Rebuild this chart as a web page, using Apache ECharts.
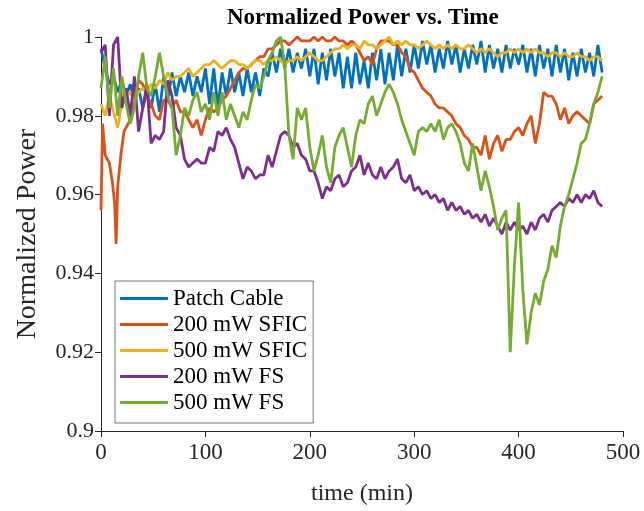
<!DOCTYPE html>
<html>
<head>
<meta charset="utf-8">
<script src="https://cdn.jsdelivr.net/npm/echarts@6/dist/echarts.min.js"></script>
<style>
html,body{margin:0;padding:0;background:#fff;}
#chart{width:644px;height:511px;}
</style>
</head>
<body>
<div id="chart"></div>
<script>
// ---- DATA ----
const seriesNames = ['Patch Cable', '200 mW SFIC', '500 mW SFIC', '200 mW FS', '500 mW FS'];
const xTicks = [0, 100, 200, 300, 400, 500];
const yTicks = [0.9, 0.92, 0.94, 0.96, 0.98, 1];

// common sampling times (min)
const timeGrid = [
  0,4,8,12,16,20,24,28,32,36,
  40,44,48,52,56,60,64,68,72,76,
  80,84,88,92,96,100,104,108,112,116,
  120,124,128,132,136,140,144,148,152,156,
  160,164,168,172,176,180,184,188,192,196,
  200,204,208,212,216,220,224,228,232,236,
  240,244,248,252,256,260,264,268,272,276,
  280,284,288,292,296,300,304,308,312,316,
  320,324,328,332,336,340,344,348,352,356,
  360,364,368,372,376,380,384,388,392,396,
  400,404,408,412,416,420,424,428,432,436,
  440,444,448,452,456,460,464,468,472,476,
  480
];

const patchCable = [
  0.997,0.992,0.988,0.990,0.986,0.989,0.985,0.988,0.984,0.987,
  0.982,0.986,0.982,0.988,0.981,0.990,0.984,0.991,0.985,0.990,
  0.986,0.991,0.985,0.990,0.986,0.992,0.983,0.992,0.982,0.991,
  0.985,0.992,0.986,0.991,0.985,0.992,0.986,0.991,0.985,0.992,
  0.990,0.996,0.991,0.997,0.992,0.997,0.991,0.996,0.992,0.997,
  0.990,0.997,0.988,0.996,0.989,0.997,0.990,0.996,0.987,0.995,
  0.987,0.996,0.988,0.994,0.987,0.996,0.989,0.997,0.988,0.996,
  0.989,0.998,0.990,0.997,0.991,0.998,0.992,0.999,0.993,0.998,
  0.991,0.997,0.992,0.999,0.993,0.998,0.991,0.997,0.992,0.998,
  0.993,0.999,0.991,0.998,0.992,0.997,0.991,0.998,0.992,0.997,
  0.993,0.998,0.991,0.997,0.990,0.998,0.992,0.997,0.990,0.998,
  0.991,0.997,0.989,0.996,0.990,0.997,0.991,0.996,0.990,0.998,
  0.991
];

// 200 mW SFIC has its own times (fast dip near the start)
const sfic200Time = [
  0,1.5,4,8,11,13,14.5,16,19,22,
  24,28,32,36,
  40,44,48,52,56,60,64,68,72,76,
  80,84,88,92,96,100,104,108,112,116,
  120,124,128,132,136,140,144,148,152,156,
  160,164,168,172,176,180,184,188,192,196,
  200,204,208,212,216,220,224,228,232,236,
  240,244,248,252,256,260,264,268,272,276,
  280,284,288,292,296,300,304,308,312,316,
  320,324,328,332,336,340,344,348,352,356,
  360,364,368,372,376,380,384,388,392,396,
  400,404,408,412,416,420,424,428,432,436,
  440,444,448,452,456,460,464,468,472,476,
  480
];
const sfic200 = [
  0.956,0.978,0.970,0.968,0.963,0.958,0.9475,0.962,0.970,0.976,
  0.977,0.979,0.983,0.989,
  0.988,0.985,0.983,0.980,0.979,0.984,0.984,0.982,0.984,0.981,
  0.981,0.979,0.977,0.979,0.975,0.979,0.982,0.981,0.982,0.984,
  0.985,0.987,0.989,0.991,0.992,0.992,0.993,0.994,0.995,0.995,
  0.997,0.997,0.998,0.999,0.999,0.998,0.999,1.000,0.999,0.999,
  0.999,1.000,0.999,1.000,0.999,0.999,1.000,0.999,0.999,0.998,
  0.999,0.998,0.996,0.994,0.995,0.993,0.997,0.999,0.999,0.999,
  0.998,0.998,0.996,0.995,0.992,0.991,0.989,0.987,0.986,0.985,
  0.983,0.982,0.982,0.981,0.980,0.978,0.977,0.975,0.974,0.972,
  0.972,0.970,0.975,0.969,0.973,0.975,0.971,0.974,0.974,0.976,
  0.977,0.975,0.978,0.980,0.973,0.978,0.986,0.985,0.985,0.983,
  0.979,0.982,0.978,0.980,0.981,0.980,0.979,0.978,0.983,0.984,
  0.985
];

const sfic500 = [
  0.983,0.980,0.985,0.981,0.977,0.983,0.985,0.986,0.984,0.986,
  0.987,0.986,0.988,0.987,0.989,0.988,0.991,0.989,0.990,0.990,
  0.991,0.992,0.990,0.991,0.992,0.993,0.993,0.994,0.993,0.992,
  0.993,0.994,0.994,0.993,0.993,0.992,0.993,0.994,0.994,0.993,
  0.994,0.994,0.995,0.994,0.993,0.994,0.994,0.995,0.994,0.995,
  0.996,0.995,0.994,0.994,0.995,0.996,0.997,0.997,0.998,0.997,
  0.998,0.998,0.997,0.999,0.998,0.998,0.997,0.998,0.999,1.000,
  0.998,0.999,0.998,0.999,0.998,0.998,0.997,0.998,0.999,0.998,
  0.997,0.998,0.997,0.998,0.997,0.998,0.997,0.997,0.998,0.997,
  0.996,0.997,0.996,0.997,0.996,0.995,0.996,0.996,0.997,0.996,
  0.997,0.996,0.997,0.996,0.997,0.996,0.996,0.995,0.996,0.996,
  0.995,0.996,0.995,0.995,0.996,0.995,0.995,0.994,0.995,0.995,
  0.994
];

const fs200 = [
  0.996,0.998,0.980,0.998,1.000,0.982,0.987,0.980,0.990,0.976,
  0.982,0.988,0.973,0.975,0.974,0.976,0.989,0.985,0.977,0.975,
  0.969,0.967,0.968,0.969,0.968,0.968,0.972,0.971,0.976,0.975,
  0.977,0.974,0.972,0.968,0.964,0.967,0.966,0.964,0.965,0.965,
  0.970,0.967,0.971,0.975,0.976,0.975,0.972,0.973,0.970,0.969,
  0.966,0.966,0.963,0.959,0.962,0.961,0.964,0.965,0.962,0.963,
  0.966,0.967,0.970,0.965,0.968,0.965,0.964,0.967,0.964,0.966,
  0.967,0.969,0.964,0.963,0.965,0.961,0.962,0.960,0.961,0.959,
  0.960,0.958,0.959,0.956,0.958,0.956,0.957,0.955,0.956,0.954,
  0.955,0.953,0.955,0.952,0.954,0.952,0.950,0.953,0.951,0.953,
  0.951,0.952,0.950,0.953,0.951,0.954,0.955,0.953,0.956,0.957,
  0.958,0.957,0.959,0.958,0.960,0.958,0.960,0.959,0.961,0.958,
  0.957
];

const fs500 = [
  0.987,0.995,0.982,0.992,0.980,0.990,0.983,0.978,0.982,0.990,
  0.996,0.987,0.985,0.990,0.996,0.990,0.985,0.982,0.970,0.975,
  0.982,0.980,0.984,0.986,0.981,0.983,0.979,0.986,0.980,0.986,
  0.979,0.983,0.980,0.977,0.981,0.979,0.984,0.988,0.987,0.990,
  0.994,0.996,0.999,1.000,0.993,0.975,0.969,0.982,0.979,0.982,
  0.972,0.966,0.970,0.975,0.967,0.963,0.972,0.975,0.977,0.972,
  0.967,0.975,0.979,0.978,0.983,0.985,0.980,0.983,0.986,0.988,
  0.986,0.983,0.979,0.976,0.973,0.970,0.976,0.977,0.976,0.978,
  0.976,0.979,0.974,0.977,0.978,0.976,0.973,0.968,0.966,0.973,
  0.967,0.961,0.966,0.962,0.957,0.951,0.954,0.956,0.920,0.942,
  0.958,0.936,0.922,0.930,0.935,0.932,0.938,0.941,0.947,0.944,
  0.952,0.957,0.960,0.964,0.968,0.973,0.974,0.978,0.983,0.986,
  0.990
];

const colors = ['#0072BD', '#D95319', '#EDB120', '#7E2F8E', '#77AC30'];

// ---- BUILD ----
function pairs(ts, vs) {
  const out = [];
  const n = Math.min(ts.length, vs.length);
  for (let i = 0; i < n; i++) out.push([ts[i], vs[i]]);
  return out;
}
const seriesData = [
  pairs(timeGrid, patchCable),
  pairs(sfic200Time, sfic200),
  pairs(timeGrid, sfic500),
  pairs(timeGrid, fs200),
  pairs(timeGrid, fs500)
];

const FONT = '"Liberation Serif", "Times New Roman", serif';
const AX = '#262626';

const chart = echarts.init(document.getElementById('chart'), null, {renderer: 'canvas'});
chart.setOption({
  animation: false,
  backgroundColor: '#ffffff',
  color: colors,
  graphic: [{
    type: 'text',
    left: 362 - 135,
    top: 7,
    style: {
      text: 'Normalized Power vs. Time',
      font: 'bold 23px ' + FONT,
      fill: '#000',
      width: 270,
      align: 'center'
    }
  }],
  grid: {left: 101, right: 21, top: 37, bottom: 77, containLabel: false},
  legend: {
    orient: 'vertical',
    left: 115,
    top: 281,
    data: seriesNames,
    icon: 'rect',
    itemWidth: 48,
    itemHeight: 3,
    itemGap: 3,
    padding: [6, 6, 9, 5],
    backgroundColor: '#ffffff',
    borderColor: '#777777',
    borderWidth: 1,
    textStyle: {fontFamily: FONT, fontSize: 23, color: '#000'}
  },
  xAxis: {
    type: 'value',
    min: xTicks[0],
    max: xTicks[xTicks.length - 1],
    interval: 100,
    name: 'time (min)',
    nameLocation: 'middle',
    nameGap: 51,
    nameTextStyle: {fontFamily: FONT, fontSize: 24, color: AX},
    axisLine: {show: true, lineStyle: {color: AX, width: 1}},
    axisTick: {show: true, inside: false, length: 6, lineStyle: {color: AX}},
    axisLabel: {fontFamily: FONT, fontSize: 23, color: AX, margin: 10},
    splitLine: {show: false}
  },
  yAxis: {
    type: 'value',
    min: yTicks[0],
    max: yTicks[yTicks.length - 1],
    interval: 0.02,
    name: 'Normalized Power',
    nameLocation: 'middle',
    nameGap: 59,
    nameTextStyle: {fontFamily: FONT, fontSize: 28, color: AX},
    axisLine: {show: true, lineStyle: {color: AX, width: 1}},
    axisTick: {show: true, inside: false, length: 6, lineStyle: {color: AX}},
    axisLabel: {
      fontFamily: FONT, fontSize: 22, color: AX, margin: 7,
      formatter: v => String(parseFloat(v.toFixed(2)))
    },
    splitLine: {show: false}
  },
  series: seriesNames.map((name, i) => ({
    name: name,
    type: 'line',
    data: seriesData[i],
    showSymbol: false,
    symbol: 'none',
    lineStyle: {width: 2.8, color: colors[i]},
    itemStyle: {color: colors[i]},
    emphasis: {disabled: true}
  }))
});
</script>
</body>
</html>
